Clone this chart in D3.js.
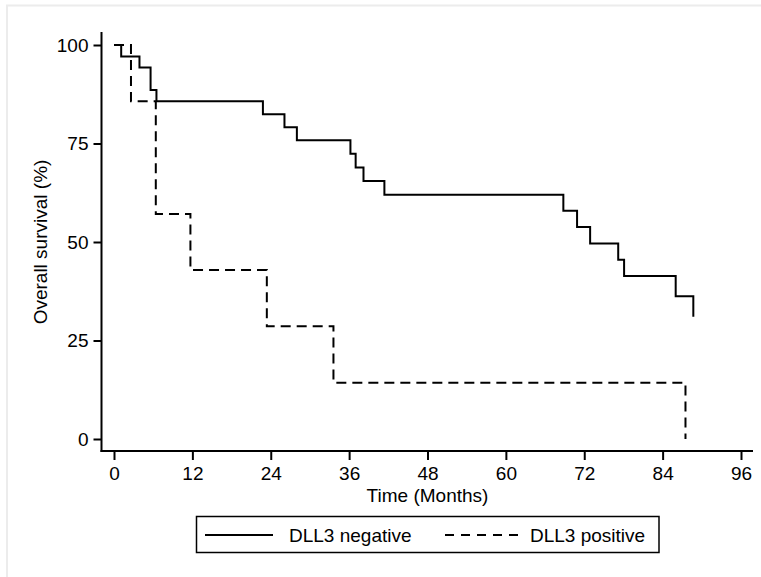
<!DOCTYPE html>
<html>
<head>
<meta charset="utf-8">
<script src="https://cdn.jsdelivr.net/npm/d3@7"></script>
<style>
  html, body { margin: 0; padding: 0; background: #fff; }
  svg { display: block; }
  text { font-family: "Liberation Sans", Arial, sans-serif; fill: #000; }
</style>
</head>
<body>
<svg id="chart" width="761" height="577"></svg>
<script>
// ---- Data ----
const negTimes = [0, 1.1, 3.9, 5.6, 6.5, 22.8, 26.1, 28.0, 36.2, 37.0, 38.2, 41.4, 68.8, 70.9, 72.9, 77.2, 78.1, 86.0, 88.7];
const negSurv  = [100, 97.1, 94.3, 88.6, 85.7, 82.4, 79.1, 75.8, 72.4, 68.9, 65.5, 62.0, 57.9, 53.8, 49.6, 45.5, 41.4, 36.2, 31.0];
const posTimes = [0, 2.6, 6.4, 11.7, 23.4, 33.6, 87.5];
const posSurv  = [100, 85.7, 57.1, 42.9, 28.6, 14.3, 0];
const xTicks = [0, 12, 24, 36, 48, 60, 72, 84, 96];
const yTicks = [0, 25, 50, 75, 100];
const seriesNames = ["DLL3 negative", "DLL3 positive"];

const FS = "19px";
const svg = d3.select("#chart");
const x = d3.scaleLinear().domain([0, 96]).range([114, 741]);
const y = d3.scaleLinear().domain([0, 100]).range([439, 45]);

// light outer frame
svg.append("rect").attr("x", 7).attr("y", 5.5).attr("width", 800).attr("height", 600)
  .attr("fill", "none").attr("stroke", "#ececec").attr("stroke-width", 2);

const axisX = 101.5, axisY = 451;

// y axis
const gy = svg.append("g").attr("transform", `translate(${axisX},0)`)
  .call(d3.axisLeft(y).tickValues(yTicks).tickSizeInner(8).tickSizeOuter(0).tickPadding(5));
gy.select(".domain").remove();
gy.selectAll(".tick line").attr("stroke", "#000").attr("stroke-width", 2);
gy.selectAll(".tick text").style("font-size", FS).attr("font-family", null);

// x axis
const gx = svg.append("g").attr("transform", `translate(0,${axisY})`)
  .call(d3.axisBottom(x).tickValues(xTicks).tickSizeInner(9).tickSizeOuter(0).tickPadding(7));
gx.select(".domain").remove();
gx.selectAll(".tick line").attr("stroke", "#000").attr("stroke-width", 2);
gx.selectAll(".tick text").style("font-size", FS).attr("font-family", null);

// axis lines
svg.append("line").attr("x1", axisX).attr("x2", axisX).attr("y1", 32).attr("y2", axisY + 1)
  .attr("stroke", "#000").attr("stroke-width", 2);
svg.append("line").attr("x1", axisX - 1).attr("x2", 753).attr("y1", axisY).attr("y2", axisY)
  .attr("stroke", "#000").attr("stroke-width", 2);

// step lines
const line = d3.line().x(d => x(d[0])).y(d => y(d[1])).curve(d3.curveStepAfter);
const negData = negTimes.map((t, i) => [t, negSurv[i]]);
const posData = posTimes.map((t, i) => [t, posSurv[i]]);

svg.append("path").datum(posData).attr("d", line)
  .attr("fill", "none").attr("stroke", "#000").attr("stroke-width", 2)
  .attr("stroke-dasharray", "10,6");
svg.append("path").datum(negData).attr("d", line)
  .attr("fill", "none").attr("stroke", "#000").attr("stroke-width", 2);

// axis titles
svg.append("text").attr("x", 427.5).attr("y", 502).attr("text-anchor", "middle")
  .style("font-size", FS).text("Time (Months)");
svg.append("text").attr("transform", "translate(46.5,242) rotate(-90)").attr("text-anchor", "middle")
  .style("font-size", FS).text("Overall survival (%)");

// legend
svg.append("rect").attr("x", 196.5).attr("y", 516.5).attr("width", 462.5).attr("height", 36)
  .attr("fill", "#fff").attr("stroke", "#000").attr("stroke-width", 1.5);
svg.append("line").attr("x1", 205).attr("x2", 273).attr("y1", 535).attr("y2", 535)
  .attr("stroke", "#000").attr("stroke-width", 2);
svg.append("text").attr("x", 289).attr("y", 542).style("font-size", FS).text(seriesNames[0]);
svg.append("line").attr("x1", 445).attr("x2", 518).attr("y1", 535).attr("y2", 535)
  .attr("stroke", "#000").attr("stroke-width", 2).attr("stroke-dasharray", "9,7");
svg.append("text").attr("x", 530).attr("y", 542).style("font-size", FS).text(seriesNames[1]);
</script>
</body>
</html>
